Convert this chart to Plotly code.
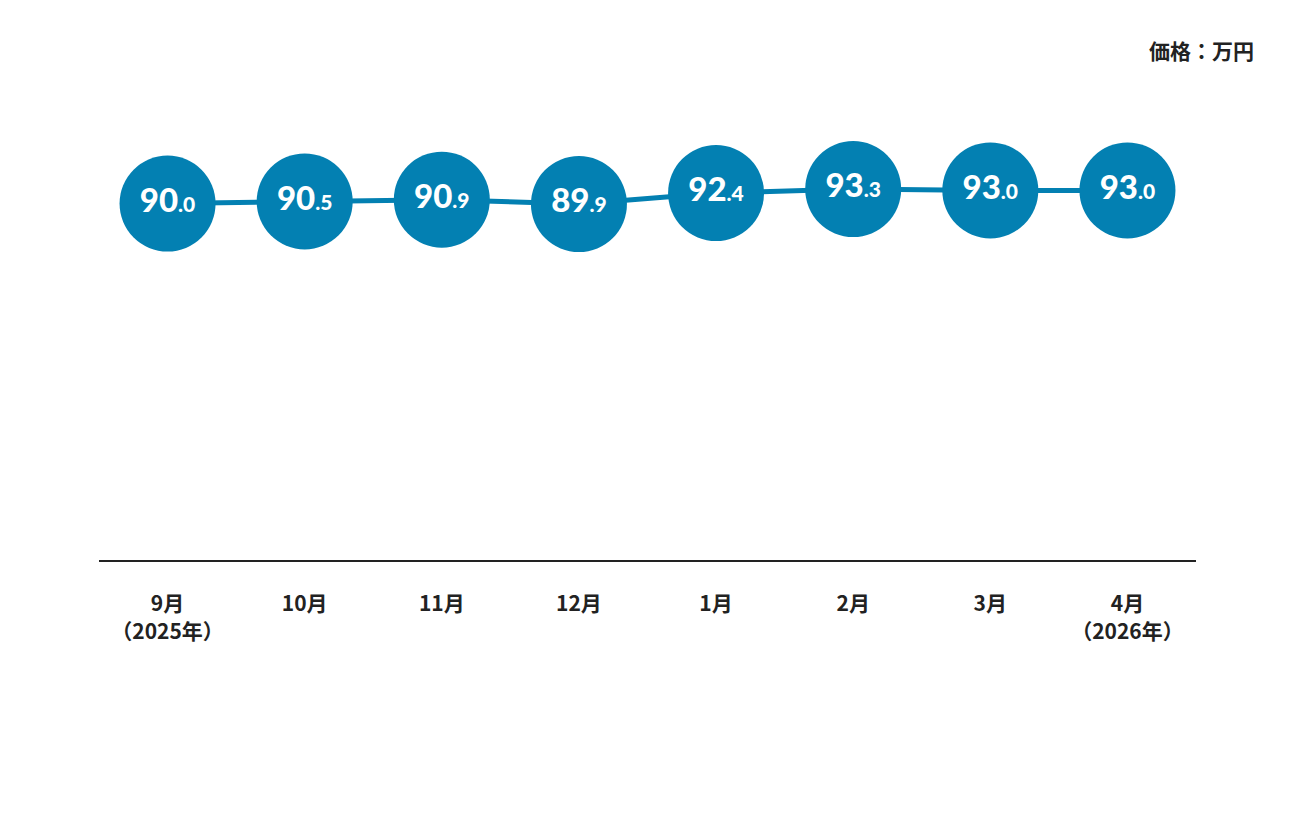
import plotly.graph_objects as go

months = ["9月<br>（2025年）", "10月", "11月", "12月", "1月", "2月", "3月", "4月<br>（2026年）"]
prices = [90.0, 90.5, 90.9, 89.9, 92.4, 93.3, 93.0, 93.0]
unit_label = "価格：万円"

BLUE = "#0380b2"
DARK = "#222222"

def fmt(v):
    s = f"{v:.1f}"
    ip, dp = s.split(".")
    return f"{ip}<span style='font-size:21px'>.{dp}</span>"

labels = [fmt(v) for v in prices]
xs = list(range(len(months)))

L, T = 91, 112
W_PLOT, H_PLOT = 1097, 440

fig = go.Figure()
fig.add_trace(go.Scatter(
    x=xs, y=prices,
    mode="lines+markers+text",
    line=dict(color=BLUE, width=5),
    marker=dict(size=96, color=BLUE, line=dict(width=0)),
    text=labels,
    textposition="middle center",
    textfont=dict(family="Lato, Open Sans, sans-serif", size=33, color="white", weight=900),
    hoverinfo="skip",
    cliponaxis=False,
))

fig.update_layout(
    width=1296, height=816,
    margin=dict(l=L, r=1296 - L - W_PLOT, t=T, b=816 - T - H_PLOT),
    paper_bgcolor="white", plot_bgcolor="white",
    showlegend=False,
    xaxis=dict(
        range=[-0.5, 7.5],
        tickmode="array", tickvals=xs, ticktext=months,
        showgrid=False, zeroline=False,
        showline=True, linecolor=DARK, linewidth=2,
        ticks="outside", ticklen=24, tickcolor="rgba(0,0,0,0)",
        tickfont=dict(family="Noto Sans CJK JP", size=21, color=DARK, weight="bold"),
        fixedrange=True,
    ),
    yaxis=dict(
        range=[9, 109], visible=False, showgrid=False, zeroline=False, fixedrange=True,
    ),
    annotations=[dict(
        text=unit_label,
        xref="paper", yref="paper",
        x=(1248 - L) / W_PLOT, y=(T + H_PLOT - 42) / H_PLOT,
        xanchor="right", yanchor="middle", showarrow=False,
        font=dict(family="Noto Sans CJK JP", size=21, color=DARK, weight="bold"),
    )],
)

fig.write_html("out.html")
